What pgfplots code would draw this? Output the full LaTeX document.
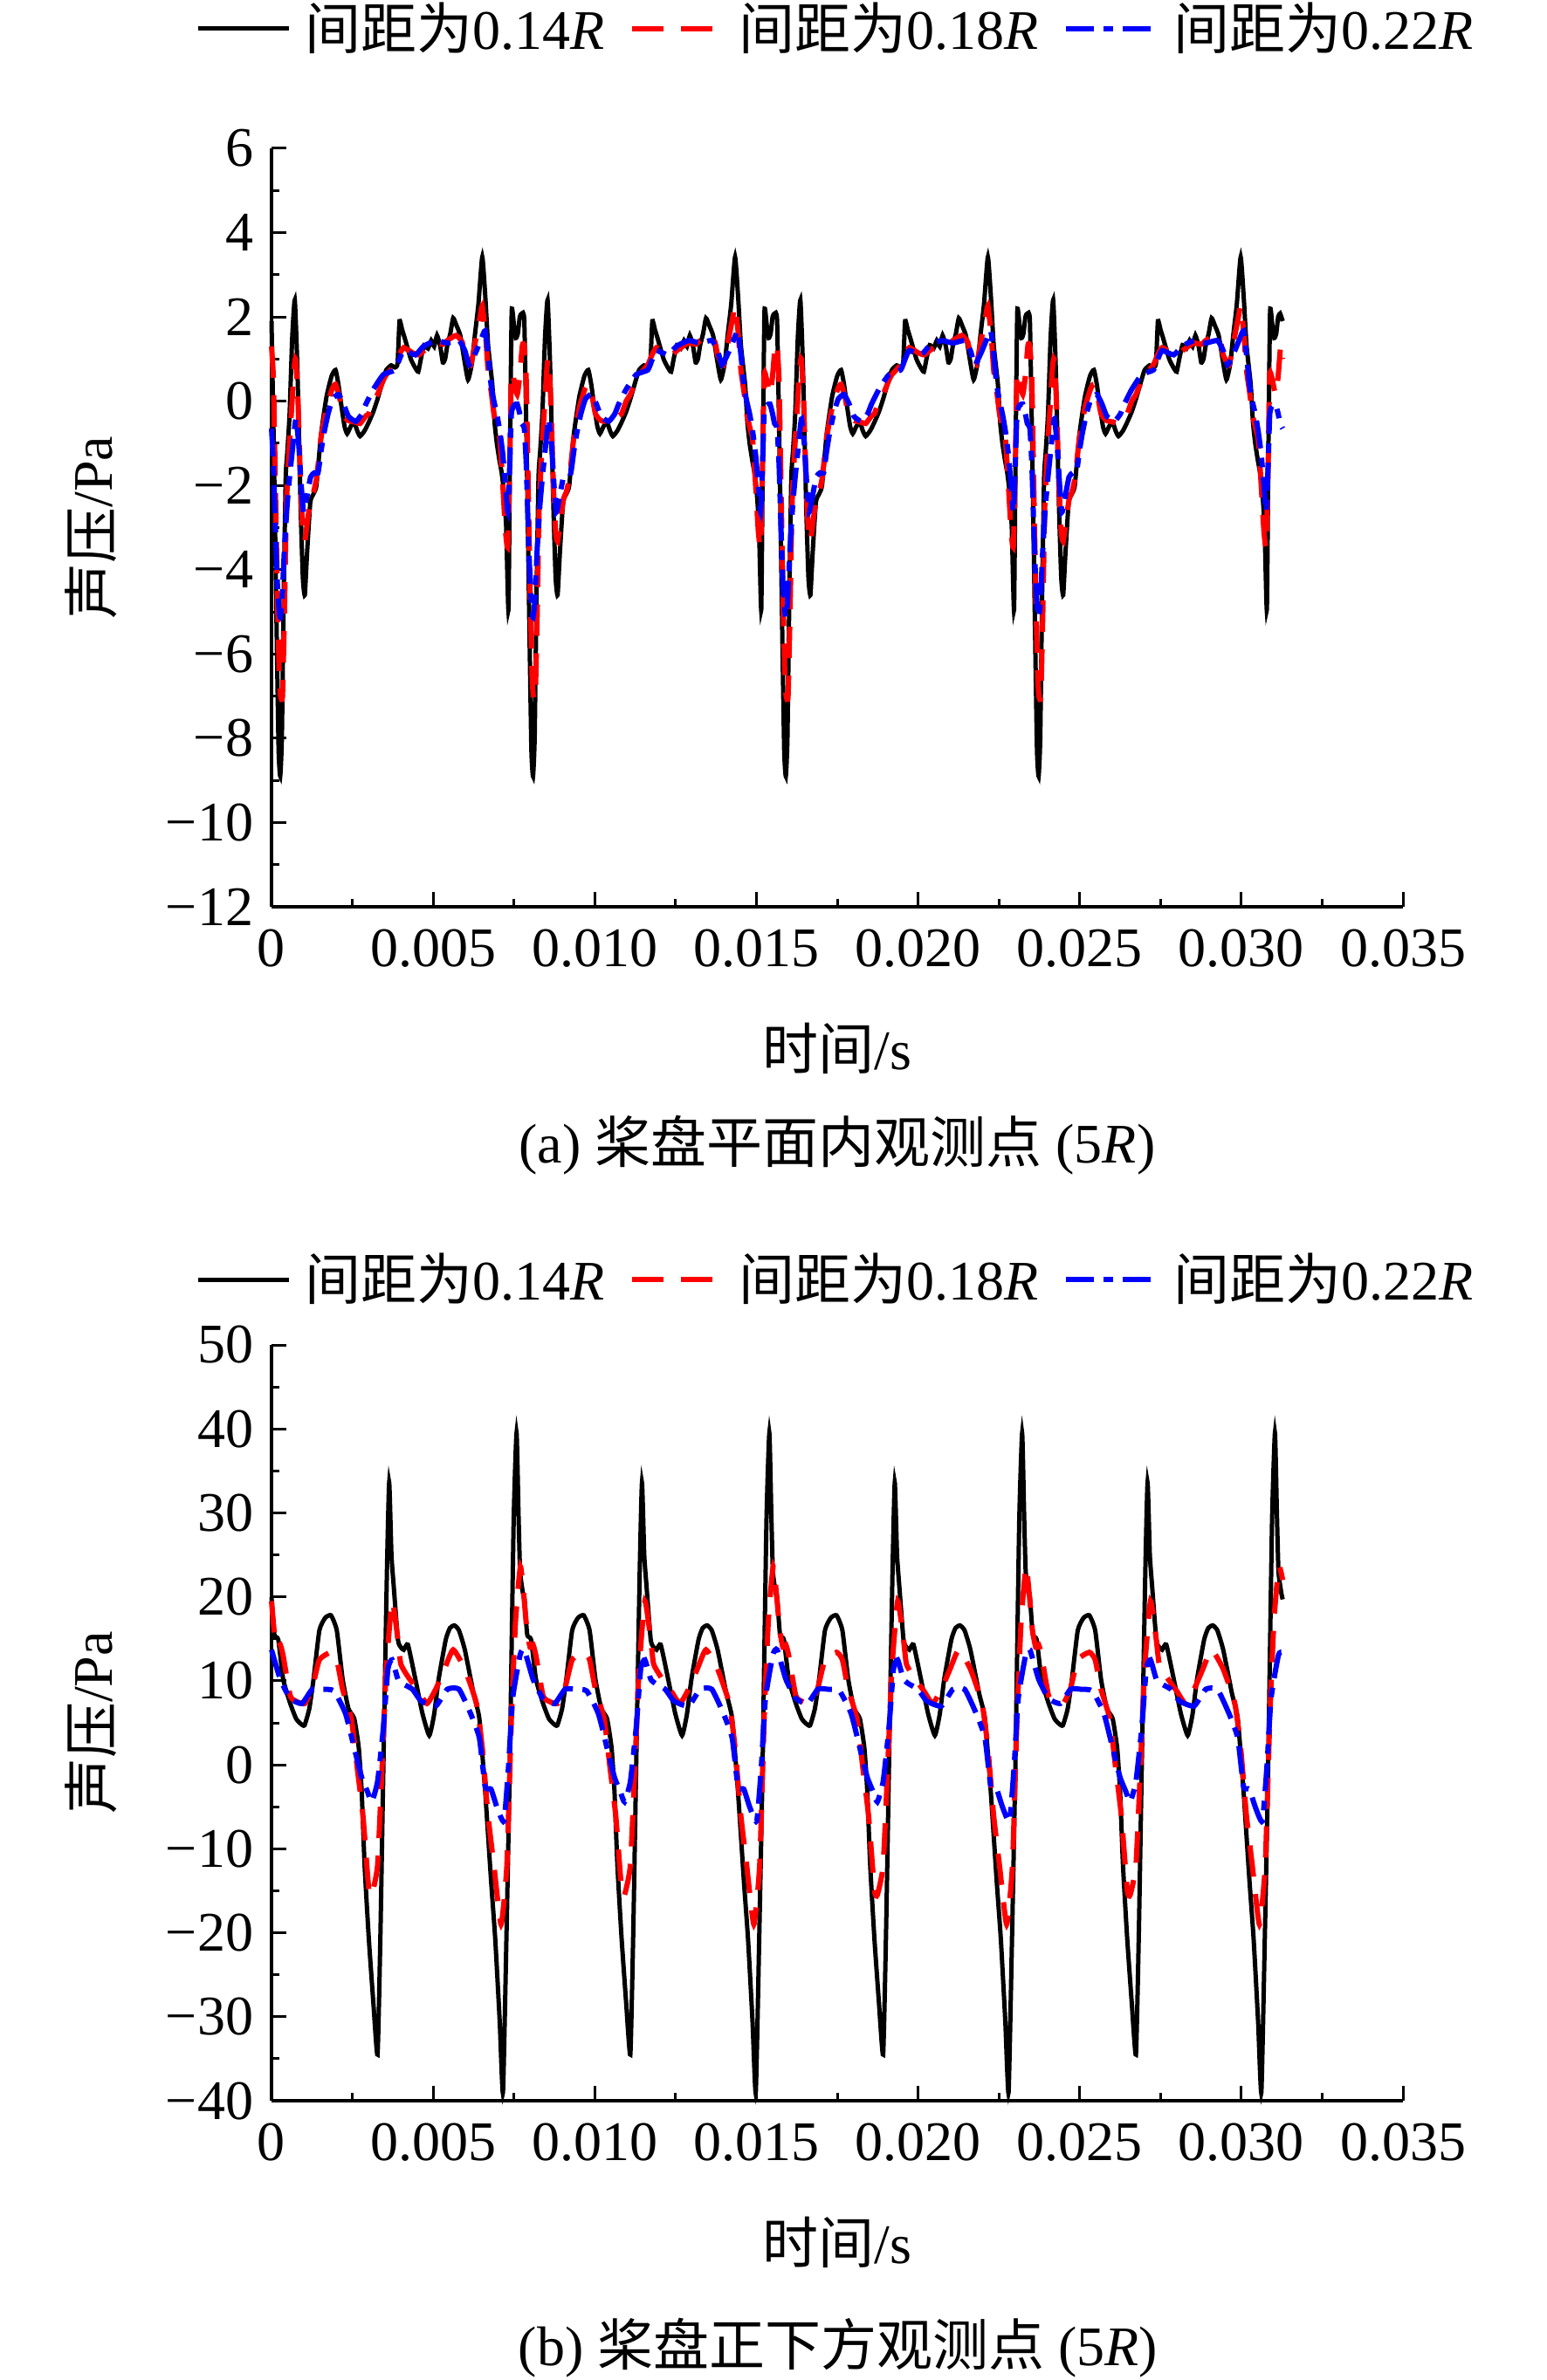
\documentclass[border=0pt]{standalone}
\usepackage{fontspec}
\setmainfont{Liberation Serif}
\newfontfamily\cjk{Noto Sans CJK SC}
\usepackage{pgfplots}
\pgfplotsset{compat=1.18}
\newcommand\fs{\fontsize{16}{19}\selectfont}
\pgfplotsset{
  myaxis/.style={
    scale only axis, width=324pt,
    axis lines*=left,
    axis line style={line width=0.9pt},
    xmin=0, xmax=3500,
    xtick={0,500,1000,1500,2000,2500,3000,3500},
    xticklabels={0,0.005,0.010,0.015,0.020,0.025,0.030,0.035},
    minor x tick num=1, minor y tick num=1,
    tick align=inside, major tick length=4.25pt, minor tick length=2.25pt,
    tick style={line width=0.75pt, black},
    tick label style={font=\fs},
    xticklabel style={yshift=-2.9pt},
    yticklabel style={xshift=-1.7pt},
    label style={font=\fs},
    xlabel={{\cjk 时间}/s},
    ylabel={{\cjk 声压}/Pa},
    ylabel style={at={(axis description cs:-0.1597,0.5)}, anchor=center},
    legend columns=3,
    legend style={draw=none, fill=none, font=\fs,
      /tikz/every odd column/.style={column sep=4pt},
      /tikz/every even column/.style={column sep=7pt},
      nodes={inner sep=0pt}},
    legend image code/.code={\draw[##1] (0pt,0pt) -- (26pt,0pt);},
    clip=false,
  },
  sb/.style={black, line width=1.25pt, smooth, tension=0.3},
  sr/.style={red, line width=1.5pt, dash pattern=on 9pt off 5pt, smooth, tension=0.3},
  sbl/.style={blue, line width=1.5pt, dash pattern=on 8pt off 2.75pt on 2.75pt off 2.75pt, smooth, tension=0.3},
}
\begin{document}
\begin{tikzpicture}[font=\fs]
\useasboundingbox (0,0) rectangle (443pt,-681.75pt);
\begin{axis}[myaxis, at={(77.75pt,-259.75pt)}, anchor=south west,
  height=217.25pt, ymin=-12, ymax=6,
  ytick={-12,-10,-8,-6,-4,-2,0,2,4,6},
  yticklabels={−12,−10,−8,−6,−4,−2,0,2,4,6},
  xlabel style={at={(axis description cs:0.5,-0.1864)}, anchor=center},
  legend style={at={(axis description cs:0.4977,1.158)}, anchor=center}]
\addplot[sb] coordinates {
(0,1.9)(8,-1.5)(16,-5.5)(22,-8.3)(27,-8.9)(32,-8.0)(38,-4.5)(44,-1.8)(49,-1.2)(56,-0.3)(64,1.5)(72,2.4)(80,0.8)(90,-2.5)(97,-4.2)(103,-4.6)(110,-3.6)(120,-2.4)(130,-2.2)(139,-2.0)(153,-0.8)(170,0.1)(186,0.6)(198,0.74)(207,0.4)(216,-0.1)(226,-0.6)(234,-0.77)(245,-0.6)(256,-0.5)(265,-0.7)(274,-0.83)(288,-0.7)(301,-0.5)(315,-0.25)(328,0.05)(345,0.5)(355,0.74)(370,0.85)(382,0.8)(390,0.9)(396,1.9)(404,1.7)(412,1.5)(431,1.0)(444,0.8)(454,0.7)(462,1.0)(472,1.33)(484,1.25)(494,1.44)(503,1.3)(512,1.56)(522,1.3)(530,0.92)(537,1.0)(544,1.33)(553,1.6)(562,1.97)(572,1.8)(584,1.56)(596,1.0)(608,0.51)(620,0.9)(629,1.56)(640,2.3)(652,3.42)(662,2.4)(670,1.33)(683,0.4)(690,-0.5)(697,-1.0)(705,-1.4)(712,-1.7)(719,-2.16)(726,-3.0)(733,-4.95)(738,-1.0)(743,2.14)(750,1.8)(756,1.5)(762,1.6)(768,2.0)(774,2.08)
(782,1.9)(790,-1.5)(798,-5.5)(804,-8.3)(809,-8.9)(814,-8.0)(820,-4.5)(826,-1.8)(831,-1.2)(838,-0.3)(846,1.5)(854,2.4)(862,0.8)(872,-2.5)(879,-4.2)(885,-4.6)(892,-3.6)(902,-2.4)(912,-2.2)(921,-2.0)(935,-0.8)(952,0.1)(968,0.6)(980,0.74)(989,0.4)(998,-0.1)(1008,-0.6)(1016,-0.77)(1027,-0.6)(1038,-0.5)(1047,-0.7)(1056,-0.83)(1070,-0.7)(1083,-0.5)(1097,-0.25)(1110,0.05)(1127,0.5)(1137,0.74)(1152,0.85)(1164,0.8)(1172,0.9)(1178,1.9)(1186,1.7)(1194,1.5)(1213,1.0)(1226,0.8)(1236,0.7)(1244,1.0)(1254,1.33)(1266,1.25)(1276,1.44)(1285,1.3)(1294,1.56)(1304,1.3)(1312,0.92)(1319,1.0)(1326,1.33)(1335,1.6)(1344,1.97)(1354,1.8)(1366,1.56)(1378,1.0)(1390,0.51)(1402,0.9)(1411,1.56)(1422,2.3)(1434,3.42)(1444,2.4)(1452,1.33)(1465,0.4)(1472,-0.5)(1479,-1.0)(1487,-1.4)(1494,-1.7)(1501,-2.16)(1508,-3.0)(1515,-4.95)(1520,-1.0)(1525,2.14)(1532,1.8)(1538,1.5)(1544,1.6)(1550,2.0)(1556,2.08)
(1564,1.9)(1572,-1.5)(1580,-5.5)(1586,-8.3)(1591,-8.9)(1596,-8.0)(1602,-4.5)(1608,-1.8)(1613,-1.2)(1620,-0.3)(1628,1.5)(1636,2.4)(1644,0.8)(1654,-2.5)(1661,-4.2)(1667,-4.6)(1674,-3.6)(1684,-2.4)(1694,-2.2)(1703,-2.0)(1717,-0.8)(1734,0.1)(1750,0.6)(1762,0.74)(1771,0.4)(1780,-0.1)(1790,-0.6)(1798,-0.77)(1809,-0.6)(1820,-0.5)(1829,-0.7)(1838,-0.83)(1852,-0.7)(1865,-0.5)(1879,-0.25)(1892,0.05)(1909,0.5)(1919,0.74)(1934,0.85)(1946,0.8)(1954,0.9)(1960,1.9)(1968,1.7)(1976,1.5)(1995,1.0)(2008,0.8)(2018,0.7)(2026,1.0)(2036,1.33)(2048,1.25)(2058,1.44)(2067,1.3)(2076,1.56)(2086,1.3)(2094,0.92)(2101,1.0)(2108,1.33)(2117,1.6)(2126,1.97)(2136,1.8)(2148,1.56)(2160,1.0)(2172,0.51)(2184,0.9)(2193,1.56)(2204,2.3)(2216,3.42)(2226,2.4)(2234,1.33)(2247,0.4)(2254,-0.5)(2261,-1.0)(2269,-1.4)(2276,-1.7)(2283,-2.16)(2290,-3.0)(2297,-4.95)(2302,-1.0)(2307,2.14)(2314,1.8)(2320,1.5)(2326,1.6)(2332,2.0)(2338,2.08)
(2346,1.9)(2354,-1.5)(2362,-5.5)(2368,-8.3)(2373,-8.9)(2378,-8.0)(2384,-4.5)(2390,-1.8)(2395,-1.2)(2402,-0.3)(2410,1.5)(2418,2.4)(2426,0.8)(2436,-2.5)(2443,-4.2)(2449,-4.6)(2456,-3.6)(2466,-2.4)(2476,-2.2)(2485,-2.0)(2499,-0.8)(2516,0.1)(2532,0.6)(2544,0.74)(2553,0.4)(2562,-0.1)(2572,-0.6)(2580,-0.77)(2591,-0.6)(2602,-0.5)(2611,-0.7)(2620,-0.83)(2634,-0.7)(2647,-0.5)(2661,-0.25)(2674,0.05)(2691,0.5)(2701,0.74)(2716,0.85)(2728,0.8)(2736,0.9)(2742,1.9)(2750,1.7)(2758,1.5)(2777,1.0)(2790,0.8)(2800,0.7)(2808,1.0)(2818,1.33)(2830,1.25)(2840,1.44)(2849,1.3)(2858,1.56)(2868,1.3)(2876,0.92)(2883,1.0)(2890,1.33)(2899,1.6)(2908,1.97)(2918,1.8)(2930,1.56)(2942,1.0)(2954,0.51)(2966,0.9)(2975,1.56)(2986,2.3)(2998,3.42)(3008,2.4)(3016,1.33)(3029,0.4)(3036,-0.5)(3043,-1.0)(3051,-1.4)(3058,-1.7)(3065,-2.16)(3072,-3.0)(3079,-4.95)(3084,-1.0)(3089,2.14)(3096,1.8)(3102,1.5)(3108,1.6)(3114,2.0)(3120,2.08)(3128,1.9)
};
\addlegendentry{{\cjk 间距为}0.14\textit{R}}
\addplot[sr] coordinates {
(0,1.3)(6,0.5)(12,-2.0)(18,-4.5)(24,-6.5)(28,-7.0)(34,-7.0)(40,-5.0)(46,-2.5)(54,-1.2)(62,-0.2)(70,0.8)(75,1.0)(82,0.0)(90,-2.0)(97,-3.1)(103,-3.33)(112,-2.8)(122,-2.3)(130,-2.16)(140,-1.8)(153,-0.88)(171,-0.13)(188,0.3)(198,0.4)(210,0.1)(220,-0.3)(235,-0.45)(247,-0.48)(260,-0.5)(274,-0.53)(292,-0.35)(301,-0.3)(315,0.0)(328,0.16)(346,0.5)(355,0.63)(382,0.86)(395,1.1)(409,1.27)(436,1.15)(455,1.1)(472,1.2)(490,1.3)(508,1.38)(530,1.35)(544,1.44)(571,1.56)(590,1.4)(598,1.1)(616,0.86)(634,1.56)(645,2.0)(652,2.26)(662,1.6)(670,0.74)(680,0.2)(688,-0.3)(700,-0.7)(706,-0.88)(714,-1.8)(724,-3.1)(731,-3.44)(737,-1.5)(742,0.63)(750,0.5)(760,0.16)(768,0.6)(776,1.33)
(782,1.3)(788,0.5)(794,-2.0)(800,-4.5)(806,-6.5)(810,-7.0)(816,-7.0)(822,-5.0)(828,-2.5)(836,-1.2)(844,-0.2)(852,0.8)(857,1.0)(864,0.0)(872,-2.0)(879,-3.1)(885,-3.33)(894,-2.8)(904,-2.3)(912,-2.16)(922,-1.8)(935,-0.88)(953,-0.13)(970,0.3)(980,0.4)(992,0.1)(1002,-0.3)(1017,-0.45)(1029,-0.48)(1042,-0.5)(1056,-0.53)(1074,-0.35)(1083,-0.3)(1097,0.0)(1110,0.16)(1128,0.5)(1137,0.63)(1164,0.86)(1177,1.1)(1191,1.27)(1218,1.15)(1237,1.1)(1254,1.2)(1272,1.3)(1290,1.38)(1312,1.35)(1326,1.44)(1353,1.56)(1372,1.4)(1380,1.1)(1398,0.86)(1416,1.56)(1427,2.0)(1434,2.26)(1444,1.6)(1452,0.74)(1462,0.2)(1470,-0.3)(1482,-0.7)(1488,-0.88)(1496,-1.8)(1506,-3.1)(1513,-3.44)(1519,-1.5)(1524,0.63)(1532,0.5)(1542,0.16)(1550,0.6)(1558,1.33)
(1564,1.3)(1570,0.5)(1576,-2.0)(1582,-4.5)(1588,-6.5)(1592,-7.0)(1598,-7.0)(1604,-5.0)(1610,-2.5)(1618,-1.2)(1626,-0.2)(1634,0.8)(1639,1.0)(1646,0.0)(1654,-2.0)(1661,-3.1)(1667,-3.33)(1676,-2.8)(1686,-2.3)(1694,-2.16)(1704,-1.8)(1717,-0.88)(1735,-0.13)(1752,0.3)(1762,0.4)(1774,0.1)(1784,-0.3)(1799,-0.45)(1811,-0.48)(1824,-0.5)(1838,-0.53)(1856,-0.35)(1865,-0.3)(1879,0.0)(1892,0.16)(1910,0.5)(1919,0.63)(1946,0.86)(1959,1.1)(1973,1.27)(2000,1.15)(2019,1.1)(2036,1.2)(2054,1.3)(2072,1.38)(2094,1.35)(2108,1.44)(2135,1.56)(2154,1.4)(2162,1.1)(2180,0.86)(2198,1.56)(2209,2.0)(2216,2.26)(2226,1.6)(2234,0.74)(2244,0.2)(2252,-0.3)(2264,-0.7)(2270,-0.88)(2278,-1.8)(2288,-3.1)(2295,-3.44)(2301,-1.5)(2306,0.63)(2314,0.5)(2324,0.16)(2332,0.6)(2340,1.33)
(2346,1.3)(2352,0.5)(2358,-2.0)(2364,-4.5)(2370,-6.5)(2374,-7.0)(2380,-7.0)(2386,-5.0)(2392,-2.5)(2400,-1.2)(2408,-0.2)(2416,0.8)(2421,1.0)(2428,0.0)(2436,-2.0)(2443,-3.1)(2449,-3.33)(2458,-2.8)(2468,-2.3)(2476,-2.16)(2486,-1.8)(2499,-0.88)(2517,-0.13)(2534,0.3)(2544,0.4)(2556,0.1)(2566,-0.3)(2581,-0.45)(2593,-0.48)(2606,-0.5)(2620,-0.53)(2638,-0.35)(2647,-0.3)(2661,0.0)(2674,0.16)(2692,0.5)(2701,0.63)(2728,0.86)(2741,1.1)(2755,1.27)(2782,1.15)(2801,1.1)(2818,1.2)(2836,1.3)(2854,1.38)(2876,1.35)(2890,1.44)(2917,1.56)(2936,1.4)(2944,1.1)(2962,0.86)(2980,1.56)(2991,2.0)(2998,2.26)(3008,1.6)(3016,0.74)(3026,0.2)(3034,-0.3)(3046,-0.7)(3052,-0.88)(3060,-1.8)(3070,-3.1)(3077,-3.44)(3083,-1.5)(3088,0.63)(3096,0.5)(3106,0.16)(3114,0.6)(3122,1.33)(3128,1.0)
};
\addlegendentry{{\cjk 间距为}0.18\textit{R}}
\addplot[sbl] coordinates {
(0,-0.65)(6,-1.5)(12,-3.0)(18,-4.3)(24,-5.0)(27,-5.13)(32,-4.8)(40,-3.5)(48,-2.5)(56,-1.8)(64,-1.2)(72,-0.6)(76,-0.42)(84,-1.0)(92,-2.0)(99,-2.63)(106,-2.4)(121,-1.8)(133,-1.7)(144,-1.7)(153,-1.2)(162,-0.77)(175,-0.3)(189,0.05)(207,0.16)(222,-0.05)(238,-0.36)(261,-0.48)(280,-0.3)(292,-0.07)(315,0.28)(346,0.63)(382,0.74)(396,1.0)(409,1.2)(445,1.1)(470,1.3)(508,1.44)(544,1.38)(580,1.44)(598,1.2)(611,0.86)(622,1.0)(634,1.2)(650,1.5)(661,1.67)(670,1.1)(679,0.4)(688,0.0)(697,-0.3)(706,-0.7)(715,-1.23)(724,-2.0)(731,-2.63)(737,-1.5)(742,-0.3)(750,-0.1)(760,-0.07)(768,-0.3)(774,-0.53)
(782,-0.65)(788,-1.5)(794,-3.0)(800,-4.3)(806,-5.0)(809,-5.13)(814,-4.8)(822,-3.5)(830,-2.5)(838,-1.8)(846,-1.2)(854,-0.6)(858,-0.42)(866,-1.0)(874,-2.0)(881,-2.63)(888,-2.4)(903,-1.8)(915,-1.7)(926,-1.7)(935,-1.2)(944,-0.77)(957,-0.3)(971,0.05)(989,0.16)(1004,-0.05)(1020,-0.36)(1043,-0.48)(1062,-0.3)(1074,-0.07)(1097,0.28)(1128,0.63)(1164,0.74)(1178,1.0)(1191,1.2)(1227,1.1)(1252,1.3)(1290,1.44)(1326,1.38)(1362,1.44)(1380,1.2)(1393,0.86)(1404,1.0)(1416,1.2)(1432,1.5)(1443,1.67)(1452,1.1)(1461,0.4)(1470,0.0)(1479,-0.3)(1488,-0.7)(1497,-1.23)(1506,-2.0)(1513,-2.63)(1519,-1.5)(1524,-0.3)(1532,-0.1)(1542,-0.07)(1550,-0.3)(1556,-0.53)
(1564,-0.65)(1570,-1.5)(1576,-3.0)(1582,-4.3)(1588,-5.0)(1591,-5.13)(1596,-4.8)(1604,-3.5)(1612,-2.5)(1620,-1.8)(1628,-1.2)(1636,-0.6)(1640,-0.42)(1648,-1.0)(1656,-2.0)(1663,-2.63)(1670,-2.4)(1685,-1.8)(1697,-1.7)(1708,-1.7)(1717,-1.2)(1726,-0.77)(1739,-0.3)(1753,0.05)(1771,0.16)(1786,-0.05)(1802,-0.36)(1825,-0.48)(1844,-0.3)(1856,-0.07)(1879,0.28)(1910,0.63)(1946,0.74)(1960,1.0)(1973,1.2)(2009,1.1)(2034,1.3)(2072,1.44)(2108,1.38)(2144,1.44)(2162,1.2)(2175,0.86)(2186,1.0)(2198,1.2)(2214,1.5)(2225,1.67)(2234,1.1)(2243,0.4)(2252,0.0)(2261,-0.3)(2270,-0.7)(2279,-1.23)(2288,-2.0)(2295,-2.63)(2301,-1.5)(2306,-0.3)(2314,-0.1)(2324,-0.07)(2332,-0.3)(2338,-0.53)
(2346,-0.65)(2352,-1.5)(2358,-3.0)(2364,-4.3)(2370,-5.0)(2373,-5.13)(2378,-4.8)(2386,-3.5)(2394,-2.5)(2402,-1.8)(2410,-1.2)(2418,-0.6)(2422,-0.42)(2430,-1.0)(2438,-2.0)(2445,-2.63)(2452,-2.4)(2467,-1.8)(2479,-1.7)(2490,-1.7)(2499,-1.2)(2508,-0.77)(2521,-0.3)(2535,0.05)(2553,0.16)(2568,-0.05)(2584,-0.36)(2607,-0.48)(2626,-0.3)(2638,-0.07)(2661,0.28)(2692,0.63)(2728,0.74)(2742,1.0)(2755,1.2)(2791,1.1)(2816,1.3)(2854,1.44)(2890,1.38)(2926,1.44)(2944,1.2)(2957,0.86)(2968,1.0)(2980,1.2)(2996,1.5)(3007,1.67)(3016,1.1)(3025,0.4)(3034,0.0)(3043,-0.3)(3052,-0.7)(3061,-1.23)(3070,-2.0)(3077,-2.63)(3083,-1.5)(3088,-0.3)(3096,-0.1)(3106,-0.07)(3114,-0.3)(3120,-0.53)(3128,-0.65)
};
\addlegendentry{{\cjk 间距为}0.22\textit{R}}
\end{axis}
\node at (239.75pt,-328pt) {(a) {\cjk 桨盘平面内观测点} (5\textit{R})};
\begin{axis}[myaxis, at={(77.75pt,-601.75pt)}, anchor=south west,
  height=216.5pt, ymin=-40, ymax=50,
  ytick={-40,-30,-20,-10,0,10,20,30,40,50},
  yticklabels={−40,−30,−20,−10,0,10,20,30,40,50},
  xlabel style={at={(axis description cs:0.5,-0.187)}, anchor=center},
  legend style={at={(axis description cs:0.4977,1.0866)}, anchor=center}]
\addplot[sb] coordinates {
(0,20.0)(9,15.5)(21,14.9)(36,10.2)(58,7.3)(76,5.5)(90,4.9)(102,4.7)(117,6.7)(130,10.2)(148,16.0)(166,17.5)(184,17.8)(202,16.0)(220,10.2)(238,6.7)(256,5.5)(270,2.0)(279,-3.2)(288,-12.0)(301,-20.7)(315,-28.3)(328,-34.5)(337,-20.0)(346,-0.3)(357,23.0)(364,33.6)(371,25.0)(378,21.3)(391,14.9)(400,14.0)(409,13.7)(422,14.3)(445,10.2)(467,6.1)(488,3.5)(503,6.0)(517,10.2)(539,14.9)(552,16.3)(566,16.6)(580,16.0)(598,13.7)(625,8.5)(643,5.5)(661,-3.2)(679,-13.7)(692,-20.7)(706,-30.6)(716,-39.0)(727,-20.0)(737,-0.3)(749,28.9)(758,39.5)(764,30.0)(769,23.0)(778,20.4)
(782,20.0)(791,15.5)(803,14.9)(818,10.2)(840,7.3)(858,5.5)(872,4.9)(884,4.7)(899,6.7)(912,10.2)(930,16.0)(948,17.5)(966,17.8)(984,16.0)(1002,10.2)(1020,6.7)(1038,5.5)(1052,2.0)(1061,-3.2)(1070,-12.0)(1083,-20.7)(1097,-28.3)(1110,-34.5)(1119,-20.0)(1128,-0.3)(1139,23.0)(1146,33.6)(1153,25.0)(1160,21.3)(1173,14.9)(1182,14.0)(1191,13.7)(1204,14.3)(1227,10.2)(1249,6.1)(1270,3.5)(1285,6.0)(1299,10.2)(1321,14.9)(1334,16.3)(1348,16.6)(1362,16.0)(1380,13.7)(1407,8.5)(1425,5.5)(1443,-3.2)(1461,-13.7)(1474,-20.7)(1488,-30.6)(1498,-39.0)(1509,-20.0)(1519,-0.3)(1531,28.9)(1540,39.5)(1546,30.0)(1551,23.0)(1560,20.4)
(1564,20.0)(1573,15.5)(1585,14.9)(1600,10.2)(1622,7.3)(1640,5.5)(1654,4.9)(1666,4.7)(1681,6.7)(1694,10.2)(1712,16.0)(1730,17.5)(1748,17.8)(1766,16.0)(1784,10.2)(1802,6.7)(1820,5.5)(1834,2.0)(1843,-3.2)(1852,-12.0)(1865,-20.7)(1879,-28.3)(1892,-34.5)(1901,-20.0)(1910,-0.3)(1921,23.0)(1928,33.6)(1935,25.0)(1942,21.3)(1955,14.9)(1964,14.0)(1973,13.7)(1986,14.3)(2009,10.2)(2031,6.1)(2052,3.5)(2067,6.0)(2081,10.2)(2103,14.9)(2116,16.3)(2130,16.6)(2144,16.0)(2162,13.7)(2189,8.5)(2207,5.5)(2225,-3.2)(2243,-13.7)(2256,-20.7)(2270,-30.6)(2280,-39.0)(2291,-20.0)(2301,-0.3)(2313,28.9)(2322,39.5)(2328,30.0)(2333,23.0)(2342,20.4)
(2346,20.0)(2355,15.5)(2367,14.9)(2382,10.2)(2404,7.3)(2422,5.5)(2436,4.9)(2448,4.7)(2463,6.7)(2476,10.2)(2494,16.0)(2512,17.5)(2530,17.8)(2548,16.0)(2566,10.2)(2584,6.7)(2602,5.5)(2616,2.0)(2625,-3.2)(2634,-12.0)(2647,-20.7)(2661,-28.3)(2674,-34.5)(2683,-20.0)(2692,-0.3)(2703,23.0)(2710,33.6)(2717,25.0)(2724,21.3)(2737,14.9)(2746,14.0)(2755,13.7)(2768,14.3)(2791,10.2)(2813,6.1)(2834,3.5)(2849,6.0)(2863,10.2)(2885,14.9)(2898,16.3)(2912,16.6)(2926,16.0)(2944,13.7)(2971,8.5)(2989,5.5)(3007,-3.2)(3025,-13.7)(3038,-20.7)(3052,-30.6)(3062,-39.0)(3073,-20.0)(3083,-0.3)(3095,28.9)(3104,39.5)(3110,30.0)(3115,23.0)(3124,20.4)(3128,19.7)
};
\addlegendentry{{\cjk 间距为}0.14\textit{R}}
\addplot[sr] coordinates {
(0,19.5)(8,16.0)(18,14.0)(27,14.3)(36,13.0)(58,8.2)(80,7.5)(103,7.3)(125,9.0)(148,12.5)(184,13.4)(202,12.5)(220,9.0)(247,5.5)(265,-0.3)(283,-6.1)(301,-14.9)(310,-15.5)(328,-12.0)(342,-0.3)(355,11.4)(373,19.5)(391,14.9)(400,12.0)(422,10.5)(454,8.8)(481,7.3)(508,9.0)(535,11.4)(562,13.7)(598,11.4)(634,7.3)(652,2.0)(670,-6.1)(688,-12.0)(710,-19.0)(728,-12.0)(742,5.5)(755,17.2)(770,23.6)
(782,19.5)(790,16.0)(800,14.0)(809,14.3)(818,13.0)(840,8.2)(862,7.5)(885,7.3)(907,9.0)(930,12.5)(966,13.4)(984,12.5)(1002,9.0)(1029,5.5)(1047,-0.3)(1065,-6.1)(1083,-14.9)(1092,-15.5)(1110,-12.0)(1124,-0.3)(1137,11.4)(1155,19.5)(1173,14.9)(1182,12.0)(1204,10.5)(1236,8.8)(1263,7.3)(1290,9.0)(1317,11.4)(1344,13.7)(1380,11.4)(1416,7.3)(1434,2.0)(1452,-6.1)(1470,-12.0)(1492,-19.0)(1510,-12.0)(1524,5.5)(1537,17.2)(1552,23.6)
(1564,19.5)(1572,16.0)(1582,14.0)(1591,14.3)(1600,13.0)(1622,8.2)(1644,7.5)(1667,7.3)(1689,9.0)(1712,12.5)(1748,13.4)(1766,12.5)(1784,9.0)(1811,5.5)(1829,-0.3)(1847,-6.1)(1865,-14.9)(1874,-15.5)(1892,-12.0)(1906,-0.3)(1919,11.4)(1937,19.5)(1955,14.9)(1964,12.0)(1986,10.5)(2018,8.8)(2045,7.3)(2072,9.0)(2099,11.4)(2126,13.7)(2162,11.4)(2198,7.3)(2216,2.0)(2234,-6.1)(2252,-12.0)(2274,-19.0)(2292,-12.0)(2306,5.5)(2319,17.2)(2334,23.6)
(2346,19.5)(2354,16.0)(2364,14.0)(2373,14.3)(2382,13.0)(2404,8.2)(2426,7.5)(2449,7.3)(2471,9.0)(2494,12.5)(2530,13.4)(2548,12.5)(2566,9.0)(2593,5.5)(2611,-0.3)(2629,-6.1)(2647,-14.9)(2656,-15.5)(2674,-12.0)(2688,-0.3)(2701,11.4)(2719,19.5)(2737,14.9)(2746,12.0)(2768,10.5)(2800,8.8)(2827,7.3)(2854,9.0)(2881,11.4)(2908,13.7)(2944,11.4)(2980,7.3)(2998,2.0)(3016,-6.1)(3034,-12.0)(3056,-19.0)(3074,-12.0)(3088,5.5)(3101,17.2)(3116,23.6)(3128,22.0)
};
\addlegendentry{{\cjk 间距为}0.18\textit{R}}
\addplot[sbl] coordinates {
(0,13.7)(27,10.2)(58,7.9)(94,7.3)(126,9.0)(157,9.0)(193,8.8)(229,6.1)(256,2.0)(279,-1.5)(297,-3.2)(310,-4.4)(328,-2.0)(346,4.4)(360,11.4)(373,12.5)(391,10.2)(409,9.6)(436,9.0)(463,7.6)(508,7.0)(544,9.0)(580,9.0)(616,6.1)(643,3.2)(661,-2.6)(679,-2.9)(697,-5.0)(719,-6.7)(733,-0.3)(746,7.9)(769,13.1)
(782,13.7)(809,10.2)(840,7.9)(876,7.3)(908,9.0)(939,9.0)(975,8.8)(1011,6.1)(1038,2.0)(1061,-1.5)(1079,-3.2)(1092,-4.4)(1110,-2.0)(1128,4.4)(1142,11.4)(1155,12.5)(1173,10.2)(1191,9.6)(1218,9.0)(1245,7.6)(1290,7.0)(1326,9.0)(1362,9.0)(1398,6.1)(1425,3.2)(1443,-2.6)(1461,-2.9)(1479,-5.0)(1501,-6.7)(1515,-0.3)(1528,7.9)(1551,13.1)
(1564,13.7)(1591,10.2)(1622,7.9)(1658,7.3)(1690,9.0)(1721,9.0)(1757,8.8)(1793,6.1)(1820,2.0)(1843,-1.5)(1861,-3.2)(1874,-4.4)(1892,-2.0)(1910,4.4)(1924,11.4)(1937,12.5)(1955,10.2)(1973,9.6)(2000,9.0)(2027,7.6)(2072,7.0)(2108,9.0)(2144,9.0)(2180,6.1)(2207,3.2)(2225,-2.6)(2243,-2.9)(2261,-5.0)(2283,-6.7)(2297,-0.3)(2310,7.9)(2333,13.1)
(2346,13.7)(2373,10.2)(2404,7.9)(2440,7.3)(2472,9.0)(2503,9.0)(2539,8.8)(2575,6.1)(2602,2.0)(2625,-1.5)(2643,-3.2)(2656,-4.4)(2674,-2.0)(2692,4.4)(2706,11.4)(2719,12.5)(2737,10.2)(2755,9.6)(2782,9.0)(2809,7.6)(2854,7.0)(2890,9.0)(2926,9.0)(2962,6.1)(2989,3.2)(3007,-2.6)(3025,-2.9)(3043,-5.0)(3065,-6.7)(3079,-0.3)(3092,7.9)(3115,13.1)(3128,13.4)
};
\addlegendentry{{\cjk 间距为}0.22\textit{R}}
\end{axis}
\node at (240pt,-672.5pt) {(b) {\cjk 桨盘正下方观测点} (5\textit{R})};
\end{tikzpicture}
\end{document}
